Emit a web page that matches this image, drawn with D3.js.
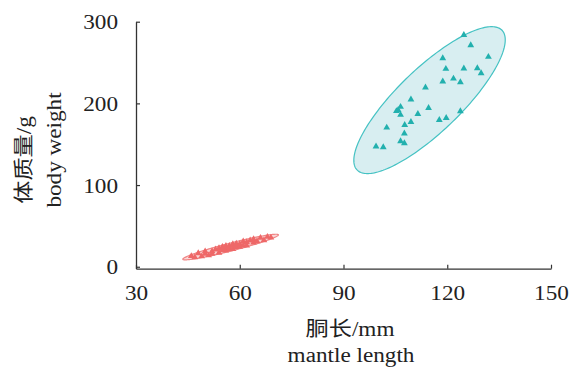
<!DOCTYPE html>
<html>
<head>
<meta charset="utf-8">
<script src="https://cdn.jsdelivr.net/npm/d3@7"></script>
<style>
  body { margin: 0; background: #fff; }
  text { font-family: "Liberation Serif", "Noto Sans CJK SC", serif; fill: #222; }
</style>
</head>
<body>
<div id="chart"></div>
<script>
// x ticks / y ticks
const xTicks = [30, 60, 90, 120, 150];
const yTicks = [0, 100, 200, 300];

// group A (small squid): mantle length (mm), body weight (g)
const smallLength = [46, 47, 48, 49, 50, 50, 51, 52, 52, 53, 54, 54, 55, 55, 56, 56, 56, 57, 57, 57,
  58, 58, 58, 59, 59, 60, 60, 61, 61, 62, 62, 63, 64, 64, 65, 66, 67, 68, 69, 55];
const smallWeight = [13, 11.5, 16.5, 12.7, 15.8, 18.8, 13.9, 19, 16, 21.1, 17.2, 22.7, 20.3, 24.3, 19.9,
  23.4, 25.4, 21.5, 25.5, 23.5, 21.6, 26.1, 27.6, 24.2, 28.2, 24.3, 27.8, 30.9, 25.9, 30, 26, 32.1,
  29.7, 33.7, 31.3, 35.4, 32.5, 36.6, 35.7, 22.8];

// group B (large squid)
const largeLength = [124.8, 126.8, 131.9, 118.7, 119.6, 124.8, 128.7, 129.8, 118.7, 121.8, 123.8, 113.7,
  109.5, 106.5, 105.8, 114.6, 111.5, 106.5, 109.5, 107.7, 117.7, 119.7, 123.8, 102.5, 107.6, 106.5,
  107.6, 99.4, 101.5, 105.3];
const largeWeight = [283.8, 271.2, 256.9, 255.3, 242.2, 242.7, 243, 236.9, 226.8, 230.4, 225.9, 219.4,
  204.7, 195.7, 192, 194.4, 187.1, 185.9, 177.3, 173.6, 179.7, 182.2, 190.4, 170.4, 163.1, 153.7,
  151.2, 147.2, 146.3, 190.5];

const groups = [
  { name: "small", xs: smallLength, ys: smallWeight, point: "#ee6868", fill: "#fad6d6", stroke: "#f08585" },
  { name: "large", xs: largeLength, ys: largeWeight, point: "#22b0ae", fill: "#d8eef1", stroke: "#45c2c3" }
];

const width = 578, height = 370;

const svg = d3.select("#chart").append("svg")
  .attr("width", width)
  .attr("height", height);

const x = d3.scaleLinear().domain([30, 150]).range([136, 551]);
const y = d3.scaleLinear().domain([-2.4, 300]).range([268.7, 21.7]);

// confidence ellipse from the sample covariance
function ellipsePoints(xs, ys) {
  const n = xs.length;
  const mx = d3.mean(xs), my = d3.mean(ys);
  let sxx = 0, syy = 0, sxy = 0;
  for (let i = 0; i < n; i++) {
    sxx += (xs[i] - mx) ** 2;
    syy += (ys[i] - my) ** 2;
    sxy += (xs[i] - mx) * (ys[i] - my);
  }
  sxx /= n - 1; syy /= n - 1; sxy /= n - 1;
  // cholesky
  const a = Math.sqrt(sxx);
  const b = sxy / a;
  const c = Math.sqrt(Math.max(syy - b * b, 1e-9));
  const k = 2.35;
  const pts = [];
  for (let t = 0; t < 200; t++) {
    const th = (t / 200) * 2 * Math.PI;
    const u = Math.cos(th), v = Math.sin(th);
    pts.push([x(mx + k * a * u), y(my + k * (b * u + c * v))]);
  }
  return pts;
}

const triangle = d3.symbol().type(d3.symbolTriangle).size(20);

groups.forEach(g => {
  svg.append("path")
    .attr("d", d3.line().curve(d3.curveLinearClosed)(ellipsePoints(g.xs, g.ys)))
    .attr("fill", g.fill)
    .attr("stroke", g.stroke)
    .attr("stroke-width", 1.2);

  svg.append("g")
    .selectAll("path")
    .data(g.xs.map((v, i) => [v, g.ys[i]]))
    .enter()
    .append("path")
    .attr("d", triangle)
    .attr("transform", d => `translate(${x(d[0])},${y(d[1])})`)
    .attr("fill", g.point);
});

////////////////////////////////////////////////////////////////////////////////////

const stretch = 1.16;

const xAxis = svg.append("g")
  .attr("transform", `translate(0,${y(-2.4)})`)
  .call(d3.axisBottom(x).tickValues(xTicks).tickSizeInner(-4).tickSizeOuter(0));

const yAxis = svg.append("g")
  .attr("transform", `translate(${x(30)},0)`)
  .call(d3.axisLeft(y).tickValues(yTicks).tickSizeInner(-4).tickSizeOuter(0));

[xAxis, yAxis].forEach(ax => {
  ax.select(".domain").attr("stroke", "#333").attr("stroke-width", 1.3);
  ax.selectAll(".tick line").attr("stroke", "#333").attr("stroke-width", 1.2);
  ax.selectAll(".tick text")
    .attr("font-size", 20)
    .attr("font-family", "Liberation Serif, serif")
    .attr("fill", "#222")
    .attr("transform", `scale(${stretch},1)`);
});
xAxis.selectAll(".tick text").attr("y", 31).attr("dy", null);
yAxis.selectAll(".tick text").attr("x", -18 / stretch).attr("dy", "0.35em");

// axis titles
svg.append("text")
  .attr("transform", `translate(350,336) scale(${stretch},1)`)
  .attr("text-anchor", "middle")
  .attr("font-size", 20)
  .text("胴长/mm");
svg.append("text")
  .attr("transform", `translate(351,362) scale(${stretch},1)`)
  .attr("text-anchor", "middle")
  .attr("font-size", 20)
  .text("mantle length");

svg.append("text")
  .attr("transform", `translate(31,160) rotate(-90) scale(${stretch},1)`)
  .attr("text-anchor", "middle")
  .attr("font-size", 20)
  .text("体质量/g");
svg.append("text")
  .attr("transform", `translate(61,150) rotate(-90) scale(${stretch},1)`)
  .attr("text-anchor", "middle")
  .attr("font-size", 20)
  .text("body weight");
</script>
</body>
</html>
